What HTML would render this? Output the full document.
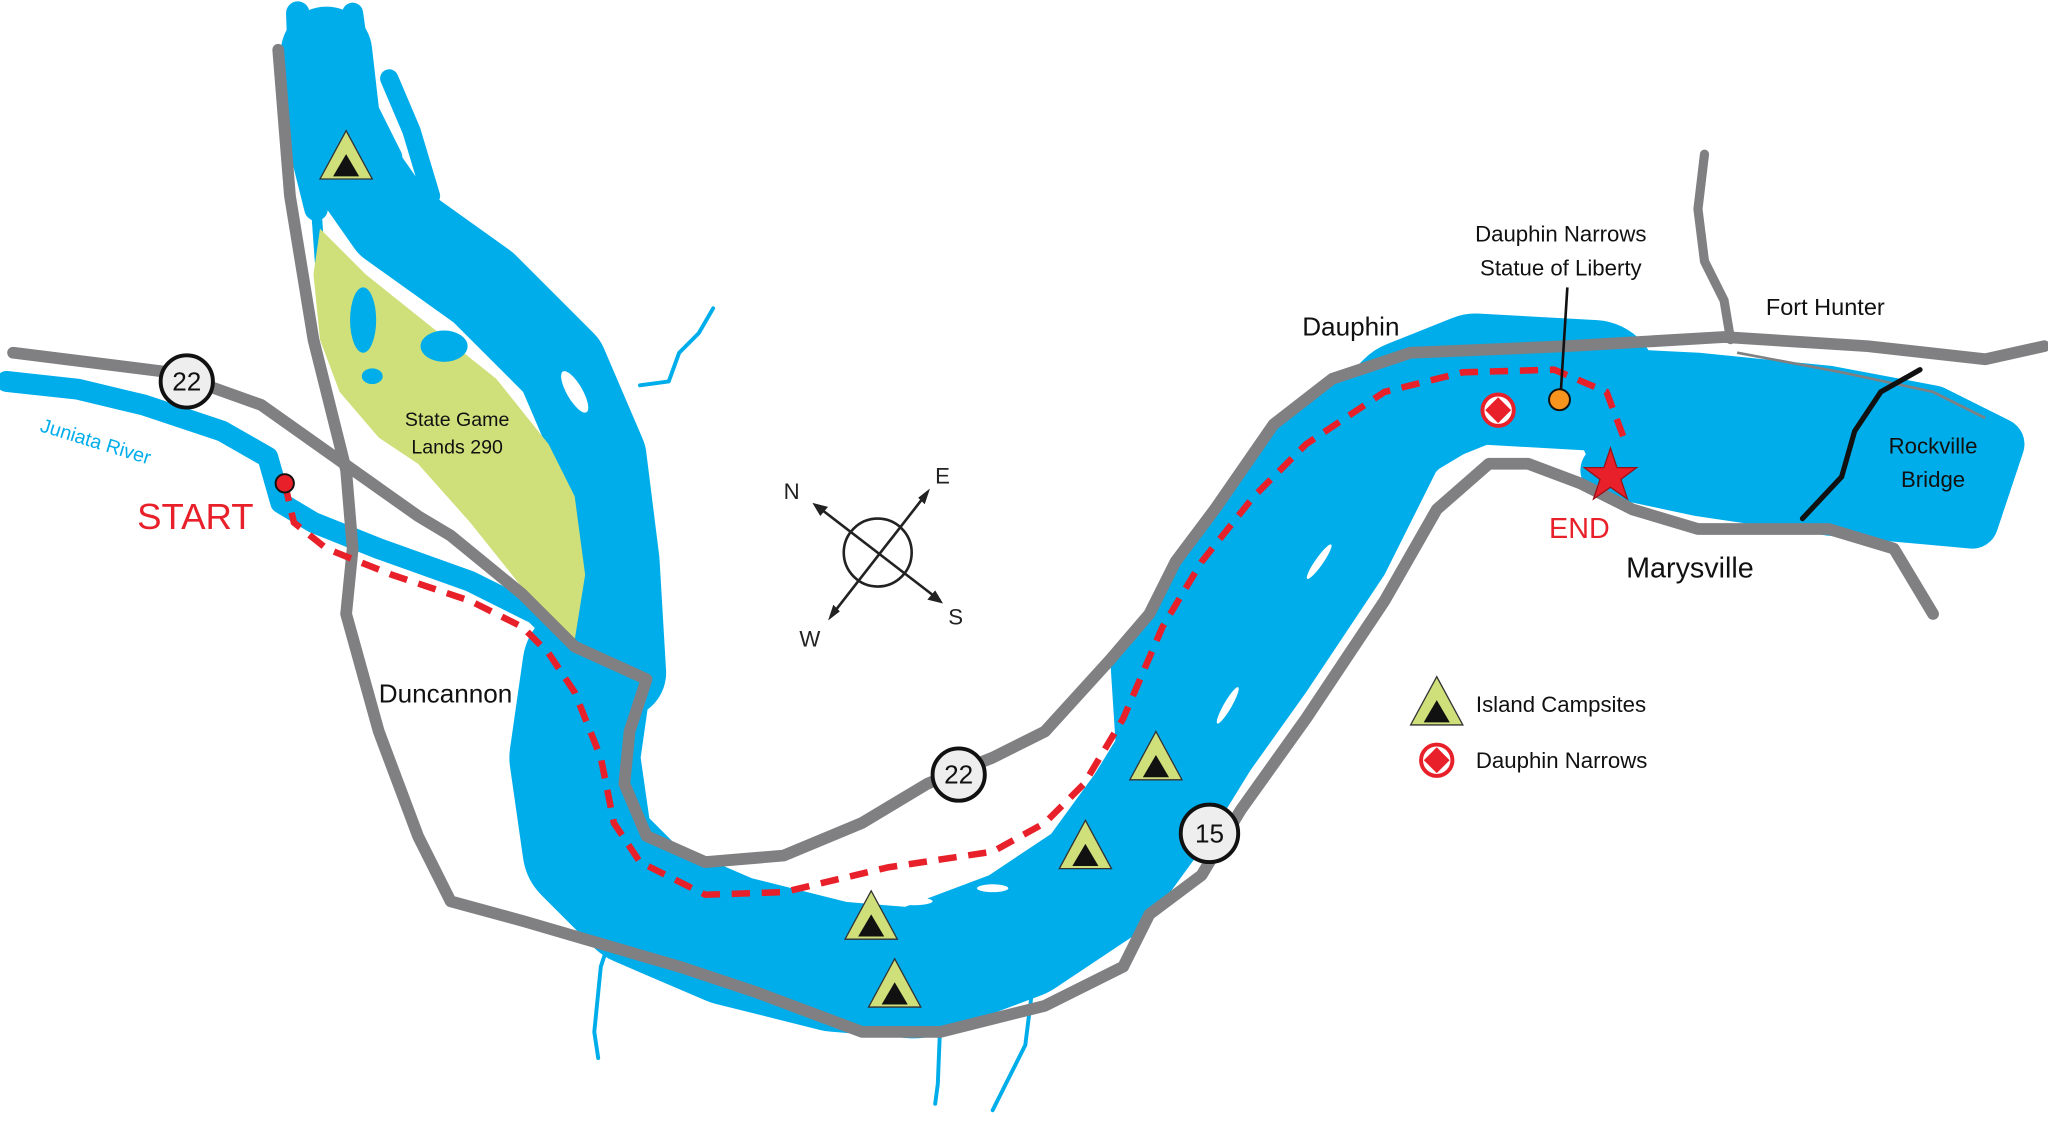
<!DOCTYPE html>
<html><head><style>html,body{margin:0;padding:0;background:#fff}svg{display:block}</style></head>
<body>
<svg width="2048" height="1126" viewBox="0 0 1568 862" xmlns="http://www.w3.org/2000/svg" font-family="Liberation Sans, sans-serif">
<rect width="1568" height="862" fill="#fff"/>
<g fill="none" stroke="#00adeb" stroke-linecap="round" stroke-linejoin="round">
<path d="M490,295 L512,292 L520,270 L535,255 L546,236" stroke-width="3"/>
<path d="M470,710 L460,740 L455,790 L458,810" stroke-width="3"/>
<path d="M720,780 L718,830 L716,845" stroke-width="3"/>
<path d="M790,760 L785,800 L770,830 L760,850" stroke-width="3"/>
<!-- Juniata -->
<path d="M5,292 L60,298 L110,310 L170,330 L205,350 L215,385 L240,400 L290,420 L360,445 L410,470 L440,500" stroke-width="16"/>
<!-- north branch -->
<path d="M250,40 L258,110 L300,170 L370,220 L430,280 L460,350 L470,430 L475,515" stroke-width="70"/>
<path d="M228,10 L232,120 L242,160" stroke-width="18"/>
<path d="M270,10 L280,80 L300,120" stroke-width="16"/>
<path d="M298,60 L315,100 L330,150" stroke-width="14"/>
<path d="M240,130 L245,200 L255,260 L280,310 L330,345 L380,380 L420,430 L445,490" stroke-width="8"/>
<!-- main river -->
<path d="M450,510 L440,580 L450,650 L490,690 L560,720 L640,740 L700,745 L780,715 L840,675 L880,620 L920,555 L960,480 L1000,410 L1040,350 L1080,310 L1130,290 L1220,295" stroke-width="100"/>
<path d="M600,760 L680,770 L760,740 L830,700" stroke-width="40"/>
<path d="M1100,290 L1200,285 L1300,290 L1400,300 L1480,315 L1530,340 L1510,400 L1400,390 L1300,375 L1230,360" stroke-width="40"/>
<path d="M1250,330 L1350,330 L1450,340 L1500,350" stroke-width="80"/>
<path d="M1180,275 L1240,300 L1260,340" stroke-width="40"/>
</g>
<polygon points="850,505 880,470 900,430 930,390 975,325 1020,290 1080,270 1150,268 1150,330 1100,360 1060,440 1000,530 950,600 910,650 860,660" fill="#00adeb"/>
<!-- green land -->
<path d="M245,175 L280,210 L330,250 L380,290 L420,340 L440,380 L448,440 L440,490 L400,450 L360,400 L320,355 L290,335 L260,300 L245,260 L240,210 Z" fill="#cfdf7a"/>
<g fill="#00adeb"><ellipse cx="278" cy="245" rx="10" ry="25"/><ellipse cx="340" cy="265" rx="18" ry="12"/><ellipse cx="285" cy="288" rx="8" ry="6"/></g>
<!-- islands (white slivers) -->
<g fill="#fff">
<ellipse cx="440" cy="300" rx="6" ry="18" transform="rotate(-30 440 300)"/>
<ellipse cx="700" cy="690" rx="14" ry="3"/><ellipse cx="760" cy="680" rx="12" ry="3"/>
<ellipse cx="940" cy="540" rx="3" ry="16" transform="rotate(30 940 540)"/>
<ellipse cx="1010" cy="430" rx="3" ry="16" transform="rotate(35 1010 430)"/>
</g>
<!-- roads -->
<g fill="none" stroke="#808083" stroke-width="9" stroke-linecap="round" stroke-linejoin="round">
<path d="M10,270 L130,285 L200,310 L320,395 L345,410 L400,455 L440,495 L495,520 L482,560 L478,600 L495,640 L540,660 L600,655 L660,630 L710,600 L760,580 L800,560 L850,505 L880,470 L900,430 L930,390 L975,325 L1020,290 L1080,270 L1200,265 L1320,258 L1430,265 L1520,275 L1565,265"/>
<path d="M213,38 L222,150 L240,260 L265,360 L270,420 L265,470 L290,560 L320,640 L345,690 L400,705 L520,740 L580,760 L660,790 L720,790 L800,770 L860,740 L880,700 L920,670 L950,620 L1000,550 L1060,460 L1100,390 L1140,355 L1170,355 L1210,370 L1250,390 L1300,405 L1400,405 L1450,420 L1480,470"/>
<path d="M1305,118 L1300,160 L1305,200 L1320,230 L1325,260" stroke-width="7"/>
</g>
<path d="M1330,270 L1410,285 L1480,300 L1520,320" stroke="#808083" stroke-width="2" fill="none"/>
<path d="M1470,283 L1440,300 L1420,330 L1410,365 L1380,397" stroke="#111" stroke-width="4" fill="none" stroke-linecap="round"/>
<!-- route -->
<path d="M218,370 L225,400 L250,420 L300,440 L360,460 L400,480 L420,500 L440,530 L460,580 L470,630 L490,660 L540,685 L600,683 L680,664 L760,652 L800,630 L830,600 L860,550 L890,480 L920,430 L960,380 L1000,340 L1060,300 L1120,285 L1190,283 L1230,300 L1245,340" fill="none" stroke="#e8202a" stroke-width="5" stroke-dasharray="14 9"/>
<circle cx="218" cy="370" r="7" fill="#e8202a" stroke="#111" stroke-width="1.5"/>
<g fill="#eee" stroke="#111" stroke-width="3">
<circle cx="143" cy="292" r="20"/><circle cx="734" cy="593" r="20"/><circle cx="926" cy="638" r="22"/>
</g>
<g font-size="20" text-anchor="middle" fill="#111">
<text x="143" y="299">22</text><text x="734" y="600">22</text><text x="926" y="645">15</text>
</g>
<g id="t">
<polygon points="265,100 245,137 285,137" fill="#cfdf7a" stroke="#333" stroke-width="1"/>
<polygon points="265,118 255,135 275,135" fill="#111"/>
</g>
<use href="#t" x="402" y="582"/><use href="#t" x="420" y="634"/><use href="#t" x="566" y="528"/><use href="#t" x="620" y="460"/><use href="#t" x="835" y="418"/>
<g><circle cx="1147" cy="314" r="12" fill="#fff" stroke="#e8202a" stroke-width="3"/><rect x="1140" y="307" width="14" height="14" fill="#e8202a" transform="rotate(45 1147 314)"/></g>
<g><circle cx="1100" cy="582" r="12" fill="#fff" stroke="#e8202a" stroke-width="3"/><rect x="1093" y="575" width="14" height="14" fill="#e8202a" transform="rotate(45 1100 582)"/></g>
<line x1="1200" y1="220" x2="1195" y2="300" stroke="#111" stroke-width="2"/>
<circle cx="1194" cy="306" r="8" fill="#f7941d" stroke="#111" stroke-width="1.5"/>
<polygon points="1233,343 1238,358 1253,358 1241,367 1246,382 1233,373 1220,382 1225,367 1213,358 1228,358" fill="#e8202a" stroke="#9b1016" stroke-width="1"/>
<g stroke="#222" stroke-width="2" fill="none">
<circle cx="672" cy="423" r="26"/>
<line x1="625" y1="387" x2="720" y2="460"/><line x1="710" y1="377" x2="636" y2="472"/>
</g>
<g fill="#222"><polygon points="622,385 634,388 628,395"/><polygon points="722,462 710,459 716,452"/><polygon points="712,374 708,386 703,381"/><polygon points="634,475 638,463 643,468"/></g>
<g font-size="17" fill="#222"><text x="600" y="382">N</text><text x="716" y="370">E</text><text x="612" y="495">W</text><text x="726" y="478">S</text></g>
<text x="30" y="330" font-size="15" fill="#00adeb" transform="rotate(17 30 330)">Juniata River</text>
<text x="105" y="405" font-size="28" fill="#e8202a">START</text>
<text x="1186" y="412" font-size="22" fill="#e8202a">END</text>
<text x="290" y="538" font-size="20" fill="#111">Duncannon</text>
<text x="350" y="326" font-size="15" text-anchor="middle" fill="#111">State Game</text>
<text x="350" y="347" font-size="15" text-anchor="middle" fill="#111">Lands 290</text>
<text x="997" y="257" font-size="20" fill="#111">Dauphin</text>
<text x="1195" y="185" font-size="17" text-anchor="middle" fill="#111">Dauphin Narrows</text>
<text x="1195" y="211" font-size="17" text-anchor="middle" fill="#111">Statue of Liberty</text>
<text x="1352" y="241" font-size="18" fill="#111">Fort Hunter</text>
<text x="1480" y="347" font-size="17" text-anchor="middle" fill="#111">Rockville</text>
<text x="1480" y="373" font-size="17" text-anchor="middle" fill="#111">Bridge</text>
<text x="1245" y="442" font-size="22" fill="#111">Marysville</text>
<text x="1130" y="545" font-size="17" fill="#111">Island Campsites</text>
<text x="1130" y="588" font-size="17" fill="#111">Dauphin Narrows</text>
</svg>
</body></html>
